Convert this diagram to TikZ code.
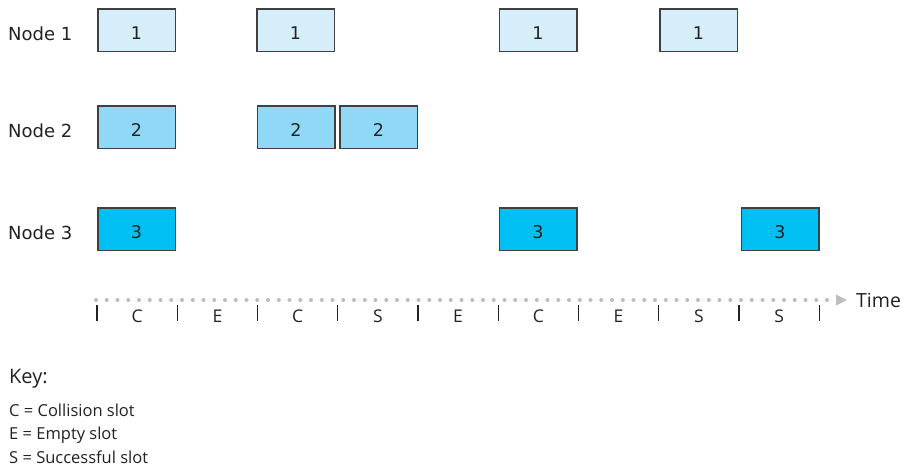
\documentclass[tikz,border=0pt]{standalone}
\usepackage{fontspec}
\setmainfont{Open Sans}
\newfontfamily\boxfont{DejaVu Sans}
\usetikzlibrary{arrows.meta,positioning}
\definecolor{slotpale}{HTML}{D5EEF9}
\definecolor{slotmid}{HTML}{8FD8F6}
\definecolor{slotdeep}{HTML}{00BFF3}
\definecolor{dotgray}{HTML}{BDBDBD}
\definecolor{inkgray}{HTML}{222222}

\begin{document}
\begin{tikzpicture}[x=1pt, y=-1pt]
      \tikzstyle{pkt}=[rectangle, draw=black!75, line width=1.5pt, minimum width=77.5pt, minimum height=42.5pt, inner sep=0pt, text height=18pt, text depth=0pt, text=inkgray, font=\boxfont\fontsize{17.5}{20}\selectfont]
      \tikzstyle{pktone}=[pkt, fill=slotpale]
      \tikzstyle{pkttwo}=[pkt, fill=slotmid]
      \tikzstyle{pktthree}=[pkt, fill=slotdeep]
      \tikzstyle{rowlbl}=[anchor=west, inner sep=0pt, text height=20pt, text depth=0pt, text=inkgray, font=\boxfont\fontsize{18}{20}\selectfont]
      \tikzstyle{tick}=[line width=1.4pt, draw=inkgray]
      \tikzstyle{slotlbl}=[anchor=base, inner sep=0pt, text=inkgray, font=\fontsize{17.5}{20}\selectfont]
      \tikzstyle{timeline}=[line width=4pt, line cap=round, dash pattern=on 0pt off 10.75pt, draw=dotgray, fill=dotgray]
      \tikzstyle{keytxt}=[anchor=base west, inner sep=0pt, text=inkgray, font=\fontsize{16.5}{18}\selectfont]

      \useasboundingbox (0,0) rectangle (905,467);

      % row labels
      \node[rowlbl] (lbl1) at (8,30) {Node 1};
      \node[rowlbl] (lbl2) at (8,127) {Node 2};
      \node[rowlbl] (lbl3) at (8,229) {Node 3};

      % transmissions
      \node[pktone] (n1a) at (136.5,30) {1};
      \node[pktone] (n1b) at (295.5,30) {1};
      \node[pktone] (n1c) at (538,30) {1};
      \node[pktone] (n1d) at (698.5,30) {1};

      \node[pkttwo] (n2a) at (136.5,127) {2};
      \node[pkttwo] (n2b) at (296,127) {2};
      \node[pkttwo] (n2c) at (378.5,127) {2};

      \node[pktthree] (n3a) at (136.5,229) {3};
      \node[pktthree] (n3b) at (538,229) {3};
      \node[pktthree] (n3c) at (780,229) {3};

      % time axis
      \coordinate (tstart) at (96,300);
      \coordinate (tend) at (847,300);
      \draw[timeline, -{Triangle[length=11pt, width=11pt, line width=0pt]}] (tstart) -- (tend);
      \node[anchor=west, inner sep=0pt, text=inkgray, font=\fontsize{19.5}{22}\selectfont] (time) [right=9pt of tend] {Time};

      \foreach \x in {97,177.25,257.5,337.75,418,498.25,578.5,658.75,739,819.25}
        \draw[tick] (\x,305) -- (\x,321);

      \node[slotlbl] (s1) at (137.1,322) {C};
      \node[slotlbl] (s2) at (217.4,322) {E};
      \node[slotlbl] (s3) at (297.6,322) {C};
      \node[slotlbl] (s4) at (377.9,322) {S};
      \node[slotlbl] (s5) at (458.1,322) {E};
      \node[slotlbl] (s6) at (538.4,322) {C};
      \node[slotlbl] (s7) at (618.6,322) {E};
      \node[slotlbl] (s8) at (698.9,322) {S};
      \node[slotlbl] (s9) at (779.1,322) {S};

      % key
      \node[keytxt, font=\fontsize{20}{22}\selectfont] (key) at (9,383) {Key:};
      \node[keytxt] (keyc) at (9,416) {C = Collision slot};
      \node[keytxt] (keye) at (9,439.5) {E = Empty slot};
      \node[keytxt] (keys) at (9,463) {S = Successful slot};
    \end{tikzpicture}
\end{document}
